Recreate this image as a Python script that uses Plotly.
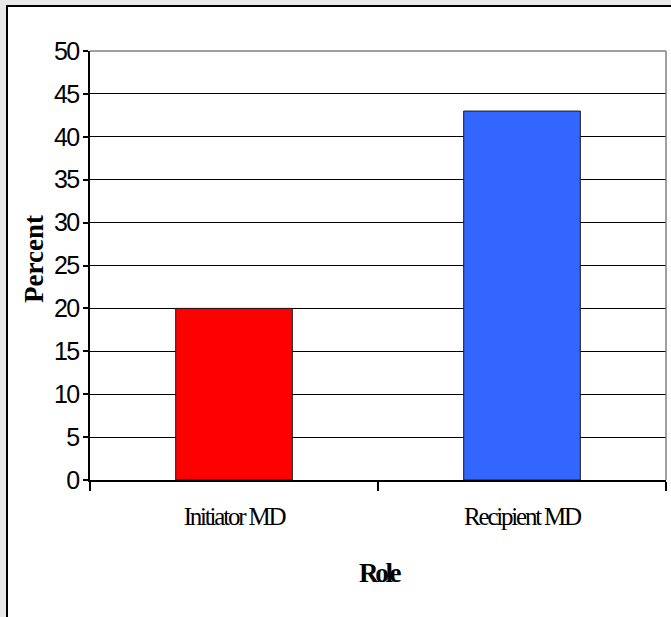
import plotly.graph_objects as go

# ---- data ----
roles = ["Initiator MD", "Recipient MD"]
percent = [20, 43]
bar_colors = ["#FF0000", "#3366FF"]
y_tickvals = [0, 5, 10, 15, 20, 25, 30, 35, 40, 45, 50]
y_ticktext = [str(v) for v in y_tickvals]
x_title = "Role"
y_title = "Percent"

W, H = 671, 617
L, R, T, B = 90, 5, 51, 137
pw = W - L - R
ph = H - T - B

def px_to_paper_x(px):
    return (px - L) / pw

def px_to_paper_y(py):
    return (H - B - py) / ph

serif = "Liberation Serif, Times New Roman, serif"
sans = "Liberation Sans, Arial, sans-serif"

fig = go.Figure()
fig.add_trace(go.Bar(
    x=roles,
    y=percent,
    marker=dict(color=bar_colors, line=dict(color="#1a1a1a", width=1)),
    width=0.405,
    showlegend=False,
    hoverinfo="x+y",
))

tick_labels_x = [
    '<span style="letter-spacing:-2.2px">' + r + '</span>' for r in roles
]
tick_labels_y = [
    '<span style="letter-spacing:-1.8px">' + t + '</span>' for t in y_ticktext
]

fig.update_layout(
    width=W, height=H,
    margin=dict(l=L, r=R, t=T, b=B, pad=0),
    paper_bgcolor="#e9e9e9",
    plot_bgcolor="white",
    xaxis=dict(
        tickmode="array",
        tickvals=roles,
        ticktext=tick_labels_x,
        tickson="boundaries",
        ticks="outside", ticklen=9, tickwidth=1.5, tickcolor="black",
        showline=True, linecolor="black", linewidth=2,
        showgrid=False,
        tickfont=dict(family=serif, size=25, color="black"),
        ticklabelstandoff=13,
        range=[-0.5, 1.5],
        fixedrange=True,
    ),
    yaxis=dict(
        range=[0, 50],
        tickmode="array",
        tickvals=y_tickvals,
        ticktext=tick_labels_y,
        ticks="outside", ticklen=5, tickwidth=1.5, tickcolor="black",
        showline=True, linecolor="black", linewidth=1.5,
        showgrid=True, gridcolor="black", gridwidth=1.4,
        zeroline=False,
        tickfont=dict(family=sans, size=25, color="black"),
        ticklabelstandoff=0,
        fixedrange=True,
    ),
    shapes=[
        # outer white frame with black border (extends past viewport right/bottom)
        dict(type="rect", xref="paper", yref="paper", layer="below",
             x0=px_to_paper_x(7), x1=px_to_paper_x(W + 20),
             y0=px_to_paper_y(H + 20), y1=px_to_paper_y(6),
             line=dict(color="black", width=2), fillcolor="white"),
        # plot area border (grey) top & right
        dict(type="line", xref="paper", yref="paper", layer="above",
             x0=1, x1=1, y0=0, y1=1, line=dict(color="#808080", width=1.5)),
        dict(type="line", xref="paper", yref="paper", layer="below",
             x0=0, x1=1, y0=1, y1=1, line=dict(color="#808080", width=1.5)),
    ],
    annotations=[
        dict(text="<b>" + y_title + "</b>", xref="paper", yref="paper",
             x=px_to_paper_x(34), y=px_to_paper_y(259),
             xanchor="center", yanchor="middle", textangle=-90,
             showarrow=False, font=dict(family=serif, size=27, color="black")),
        dict(text='<span style="letter-spacing:-3.3px"><b>' + x_title + '</b></span>',
             xref="paper", yref="paper",
             x=px_to_paper_x(380), y=px_to_paper_y(573),
             xanchor="center", yanchor="middle",
             showarrow=False, font=dict(family=serif, size=27, color="black")),
    ],
    bargap=0.6,
)

fig.write_html("out.html")
